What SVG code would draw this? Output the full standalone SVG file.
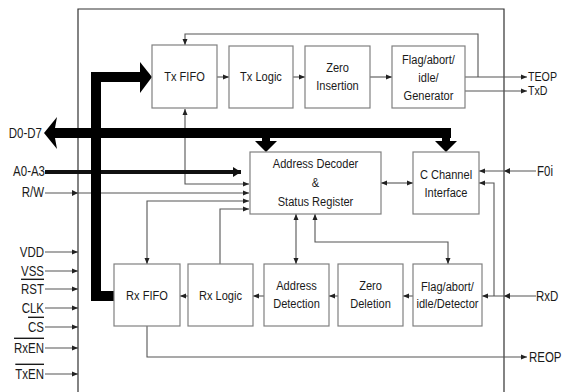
<svg xmlns="http://www.w3.org/2000/svg" width="565" height="392" viewBox="0 0 565 392">
<defs>
<marker id="a" viewBox="0 0 6 6" refX="6" refY="3" markerWidth="6" markerHeight="6" markerUnits="userSpaceOnUse" orient="auto-start-reverse"><path d="M0,0.5 L6,3 L0,5.5 Z" fill="#222"/></marker>
<marker id="ab" viewBox="0 0 8 10" refX="8" refY="5" markerWidth="8" markerHeight="12" markerUnits="userSpaceOnUse" orient="auto"><path d="M0,0 L8,5 L0,10 Z" fill="#111"/></marker>
<style>
.box{fill:#fff;stroke:#808080;stroke-width:1.2}
.ln{fill:none;stroke:#555;stroke-width:1.1}
.t{font-family:"Liberation Sans",Arial,sans-serif;font-size:13.5px;fill:#1a1a1a;text-anchor:middle;dominant-baseline:central}
.l{font-family:"Liberation Sans",Arial,sans-serif;font-size:14px;fill:#1a1a1a;dominant-baseline:central}
.r{text-anchor:end}
</style>
</defs>
<rect width="565" height="392" fill="#fff"/>
<path d="M78,392 V9 H504 V392" fill="none" stroke="#333" stroke-width="1.2"/>
<g id="connectors">
<path class="ln" d="M217,77 H229" marker-end="url(#a)"/>
<path class="ln" d="M293,77 H305" marker-end="url(#a)"/>
<path class="ln" d="M370,77 H392" marker-end="url(#a)"/>
<path class="ln" d="M465,77 H527" marker-end="url(#a)"/>
<path class="ln" d="M465,91 H527" marker-end="url(#a)"/>
<path class="ln" d="M478,77 V34 H185 V45" marker-end="url(#a)"/>
<path class="ln" d="M185,109 V184 H249" marker-start="url(#a)" marker-end="url(#a)"/>
<path class="ln" d="M45,193 H249" marker-end="url(#a)"/>
<path class="ln" d="M249,201 H147 V264" marker-start="url(#a)" marker-end="url(#a)"/>
<path class="ln" d="M220,264 V209 H249" marker-end="url(#a)"/>
<path class="ln" d="M296,214 V264" marker-start="url(#a)" marker-end="url(#a)"/>
<path class="ln" d="M315,214 V242 H448 V264" marker-start="url(#a)" marker-end="url(#a)"/>
<path class="ln" d="M381,183 H413" marker-start="url(#a)" marker-end="url(#a)"/>
<path class="ln" d="M536,171 H479" marker-end="url(#a)"/>
<path class="ln" d="M536,296 H482" marker-end="url(#a)"/>
<path class="ln" d="M494,296 V183 H479" marker-end="url(#a)"/>
<path class="ln" d="M413,296 H403" marker-end="url(#a)"/>
<path class="ln" d="M338,296 H329" marker-end="url(#a)"/>
<path class="ln" d="M264,296 H253" marker-end="url(#a)"/>
<path class="ln" d="M188,296 H180" marker-end="url(#a)"/>
<path class="ln" d="M147,326 V357 H527" marker-end="url(#a)"/>
<path class="ln" d="M45,252 H78" marker-end="url(#a)"/>
<path class="ln" d="M45,271 H78" marker-end="url(#a)"/>
<path class="ln" d="M45,289 H78" marker-end="url(#a)"/>
<path class="ln" d="M45,308 H78" marker-end="url(#a)"/>
<path class="ln" d="M45,327 H78" marker-end="url(#a)"/>
<path class="ln" d="M45,348 H78" marker-end="url(#a)"/>
<path class="ln" d="M45,374 H78" marker-end="url(#a)"/>
<g fill="#222">
<path d="M72,190 L78,193 L72,196 Z"/>
<path d="M504,171 L510,168 L510,174 Z"/>
<path d="M504,296 L510,293 L510,299 Z"/>
</g>
<path d="M45,172 H241" stroke="#111" stroke-width="4" fill="none" marker-end="url(#ab)"/>
<g fill="#000">
<path d="M44,133 L57,117 L55,128 H451 V138 H55 L57,149 Z"/>
<path d="M262,138 H270 V141 H277 L266,152 L255,141 H262 Z"/>
<path d="M442,138 H450 V141 H457 L446,152 L435,141 H442 Z"/>
<path d="M142,77 H96 V296 H114" fill="none" stroke="#000" stroke-width="10"/>
<path d="M140,62 L152,77 L140,93 Z"/>
</g>
</g>
<g id="txfifo"><rect class="box" x="152" y="45" width="65" height="63"/><text class="t" transform="translate(184.5,77) scale(.82,1)">Tx FIFO</text></g>
<g id="txlogic"><rect class="box" x="229" y="46" width="64" height="62"/><text class="t" transform="translate(261,77) scale(.82,1)">Tx Logic</text></g>
<g id="zeroins"><rect class="box" x="305" y="46" width="65" height="62"/><text class="t" transform="translate(337.5,68) scale(.82,1)">Zero</text><text class="t" transform="translate(337.5,86) scale(.82,1)">Insertion</text></g>
<g id="flaggen"><rect class="box" x="392" y="46" width="73" height="62"/><text class="t" transform="translate(428.5,60) scale(.82,1)">Flag/abort/</text><text class="t" transform="translate(428.5,78) scale(.82,1)">idle/</text><text class="t" transform="translate(428.5,96) scale(.82,1)">Generator</text></g>
<g id="decoder"><rect class="box" x="250" y="152" width="131" height="62"/><text class="t" transform="translate(315.5,164) scale(.82,1)">Address Decoder</text><text class="t" transform="translate(315.5,183) scale(.82,1)">&amp;</text><text class="t" transform="translate(315.5,202) scale(.82,1)">Status Register</text></g>
<g id="cchannel"><rect class="box" x="413" y="152" width="66" height="62"/><text class="t" transform="translate(446,175) scale(.82,1)">C Channel</text><text class="t" transform="translate(446,193) scale(.82,1)">Interface</text></g>
<g id="rxfifo"><rect class="box" x="114" y="264" width="66" height="62"/><text class="t" transform="translate(147,296) scale(.82,1)">Rx FIFO</text></g>
<g id="rxlogic"><rect class="box" x="188" y="264" width="65" height="62"/><text class="t" transform="translate(220.5,296) scale(.82,1)">Rx Logic</text></g>
<g id="addrdet"><rect class="box" x="264" y="264" width="65" height="62"/><text class="t" transform="translate(296.5,286) scale(.82,1)">Address</text><text class="t" transform="translate(296.5,304) scale(.82,1)">Detection</text></g>
<g id="zerodel"><rect class="box" x="338" y="264" width="65" height="62"/><text class="t" transform="translate(370.5,286) scale(.82,1)">Zero</text><text class="t" transform="translate(370.5,304) scale(.82,1)">Deletion</text></g>
<g id="flagdet"><rect class="box" x="413" y="264" width="69" height="62"/><text class="t" transform="translate(447.5,287) scale(.82,1)">Flag/abort/</text><text class="t" transform="translate(447.5,304) scale(.82,1)">idle/Detector</text></g>
<g id="labels">
<text class="l r" transform="translate(42,133) scale(.82,1)">D0-D7</text>
<text class="l r" transform="translate(45,171) scale(.82,1)">A0-A3</text>
<text class="l r" transform="translate(44,192) scale(.82,1)">R/W</text>
<text class="l r" transform="translate(44,252) scale(.82,1)">VDD</text>
<text class="l r" transform="translate(44,271) scale(.82,1)">VSS</text>
<text class="l r" transform="translate(44,289) scale(.82,1)" text-decoration="overline">RST</text>
<text class="l r" transform="translate(44,308) scale(.82,1)">CLK</text>
<text class="l r" transform="translate(44,327) scale(.82,1)" text-decoration="overline">CS</text>
<text class="l r" transform="translate(44,348) scale(.82,1)" text-decoration="overline">RxEN</text>
<text class="l r" transform="translate(44,374) scale(.82,1)" text-decoration="overline">TxEN</text>
<text class="l" transform="translate(528,77) scale(.82,1)" style="font-size:13px">TEOP</text>
<text class="l" transform="translate(528,91) scale(.82,1)" style="font-size:13px">TxD</text>
<text class="l" transform="translate(537,171) scale(.82,1)">F0i</text>
<text class="l" transform="translate(536,296) scale(.82,1)">RxD</text>
<text class="l" transform="translate(529,357) scale(.82,1)">REOP</text>
</g>
</svg>
